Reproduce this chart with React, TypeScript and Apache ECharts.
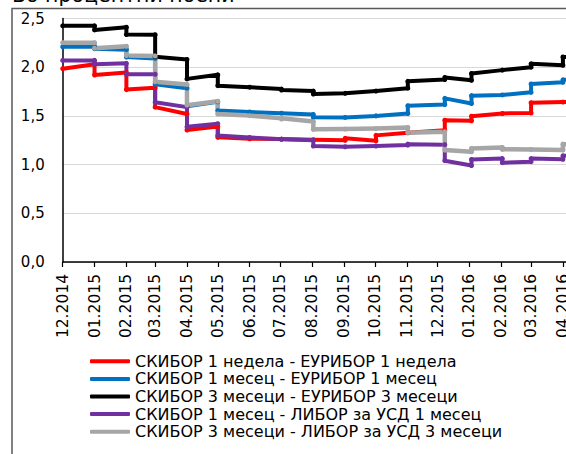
import React, { useEffect, useRef } from "react";
import * as echarts from "echarts";

const monthDays = [0, 31, 62, 90, 121, 151, 182, 212, 243, 274, 304, 335, 365, 396, 427, 456, 487];
const monthLabels = [
  "12.2014", "01.2015", "02.2015", "03.2015", "04.2015", "05.2015", "06.2015", "07.2015",
  "08.2015", "09.2015", "10.2015", "11.2015", "12.2015", "01.2016", "02.2016", "03.2016", "04.2016",
];
const yTicks = [0, 0.5, 1, 1.5, 2, 2.5];

const seriesNames = [
  "СКИБОР 1 недела - ЕУРИБОР 1 недела",
  "СКИБОР 1 месец - ЕУРИБОР 1 месец",
  "СКИБОР 3 месеци - ЕУРИБОР 3 месеци",
  "СКИБОР 1 месец - ЛИБОР за УСД 1 месец",
  "СКИБОР 3 месеци - ЛИБОР за УСД 3 месеци",
];
const seriesColors = ["#FF0000", "#0070C0", "#000000", "#7030A0", "#A6A6A6"];

// [day since 01.12.2014, value]
const red = [
  [0, 1.985], [31, 2.03], [31, 1.92], [62, 1.945], [62, 1.77], [90, 1.79], [90, 1.59],
  [121, 1.52], [121, 1.355], [151, 1.39], [151, 1.28], [182, 1.265], [213, 1.262],
  [244, 1.255], [275, 1.25], [275, 1.27], [305, 1.245], [305, 1.3], [336, 1.326],
  [372, 1.354], [372, 1.456], [398, 1.45], [398, 1.497], [428, 1.525], [456, 1.53],
  [456, 1.635], [487, 1.642], [500, 1.642],
];
const blue = [
  [0, 2.21], [31, 2.21], [31, 2.19], [62, 2.18], [62, 2.105], [90, 2.09], [90, 1.825],
  [121, 1.785], [121, 1.6], [151, 1.645], [151, 1.555], [182, 1.54], [213, 1.528],
  [244, 1.515], [244, 1.485], [275, 1.484], [305, 1.5], [336, 1.525], [336, 1.605],
  [372, 1.617], [372, 1.68], [398, 1.627], [398, 1.708], [428, 1.715], [456, 1.742],
  [456, 1.828], [487, 1.845], [487, 1.87], [500, 1.87],
];
const black = [
  [0, 2.425], [31, 2.425], [31, 2.383], [62, 2.41], [62, 2.335], [90, 2.333], [90, 2.108],
  [121, 2.08], [121, 1.88], [151, 1.922], [151, 1.81], [182, 1.795], [213, 1.775],
  [213, 1.765], [244, 1.755], [244, 1.725], [275, 1.732], [305, 1.755], [336, 1.785],
  [336, 1.855], [372, 1.873], [372, 1.895], [398, 1.865], [398, 1.935], [428, 1.97],
  [456, 2.0], [456, 2.035], [487, 2.02], [487, 2.105], [500, 2.105],
];
const purple = [
  [0, 2.07], [31, 2.07], [31, 2.03], [62, 2.04], [62, 1.928], [90, 1.928], [90, 1.64],
  [121, 1.59], [121, 1.388], [151, 1.42], [151, 1.3], [182, 1.279], [213, 1.26],
  [244, 1.25], [244, 1.19], [275, 1.183], [305, 1.19], [336, 1.2], [336, 1.21],
  [372, 1.205], [372, 1.04], [398, 0.99], [398, 1.053], [428, 1.062], [428, 1.02],
  [456, 1.03], [456, 1.062], [487, 1.055], [487, 1.09], [500, 1.09],
];
const gray = [
  [0, 2.252], [31, 2.252], [31, 2.195], [62, 2.215], [62, 2.12], [90, 2.115], [90, 1.85],
  [121, 1.822], [121, 1.61], [151, 1.65], [151, 1.52], [182, 1.503], [213, 1.475],
  [213, 1.468], [244, 1.442], [244, 1.362], [275, 1.365], [305, 1.37], [336, 1.381],
  [336, 1.328], [372, 1.337], [372, 1.149], [398, 1.131], [398, 1.166], [428, 1.176],
  [428, 1.158], [456, 1.156], [487, 1.15], [487, 1.21], [500, 1.21],
];
const allSeries = [red, blue, black, purple, gray];

const FONT = "DejaVu Sans";

export default function App() {
  const ref = useRef<HTMLDivElement>(null);
  useEffect(() => {
    if (!ref.current) return;
    const chart = echarts.init(ref.current, null, { renderer: "svg" });
    chart.setOption({
      animation: false,
      textStyle: { fontFamily: FONT },
      grid: {
        left: 62.7,
        top: 18.5,
        right: 0,
        bottom: 192,
        containLabel: false,
        outerBoundsMode: "none",
      },
      graphic: [
        {
          type: "rect",
          shape: { x: 12, y: 8.5, width: 700, height: 600 },
          style: { fill: "none", stroke: "#595959", lineWidth: 1.5 },
          silent: true,
          z: -10,
        },
        {
          type: "text",
          x: 12,
          y: -4.8,
          style: {
            text: "Во процентни поени",
            font: `20.5px "${FONT}"`,
            fill: "#000",
            verticalAlign: "middle",
            align: "left",
          },
        },
      ],
      legend: {
        orient: "vertical",
        left: 90,
        top: 352.5,
        padding: 0,
        itemWidth: 40,
        itemHeight: 4,
        itemGap: 0,
        icon: "roundRect",
        textStyle: { fontFamily: FONT, fontSize: 16, color: "#000", lineHeight: 17.6 },
        data: seriesNames,
      },
      xAxis: {
        type: "value",
        min: 0,
        max: 490,
        axisLine: { show: true, lineStyle: { color: "#000", width: 1.5 } },
        axisTick: { show: true, customValues: monthDays, length: 5, lineStyle: { color: "#000", width: 1.2 } },
        axisLabel: {
          customValues: monthDays,
          rotate: 90,
          margin: 12,
          fontSize: 15.5,
          color: "#000",
          fontFamily: FONT,
          hideOverlap: false,
          formatter: (v: number) => {
            const i = monthDays.indexOf(Math.round(v));
            return i >= 0 ? monthLabels[i] : "";
          },
        },
        splitLine: { show: false },
      },
      yAxis: {
        type: "value",
        min: yTicks[0],
        max: yTicks[yTicks.length - 1],
        interval: 0.5,
        axisLine: { show: true, lineStyle: { color: "#000", width: 1.5 } },
        axisTick: { show: false },
        axisLabel: {
          margin: 18,
          fontSize: 15,
          color: "#000",
          fontFamily: FONT,
          formatter: (v: number) => v.toFixed(1).replace(".", ","),
        },
        splitLine: { show: true, lineStyle: { color: "#D9D9D9", width: 1 } },
      },
      series: allSeries.map((d, i) => ({
        type: "line",
        name: seriesNames[i],
        data: d,
        color: seriesColors[i],
        symbol: "circle",
        symbolSize: 5,
        showSymbol: true,
        clip: true,
        lineStyle: { width: i === 4 ? 4.5 : 4, color: seriesColors[i], join: "round" },
        itemStyle: { color: seriesColors[i] },
      })),
    });
    return () => chart.dispose();
  }, []);
  return (
    <div
      ref={ref}
      style={{ position: "absolute", left: 0, top: 0, width: 566, height: 454, background: "#fff" }}
    />
  );
}
